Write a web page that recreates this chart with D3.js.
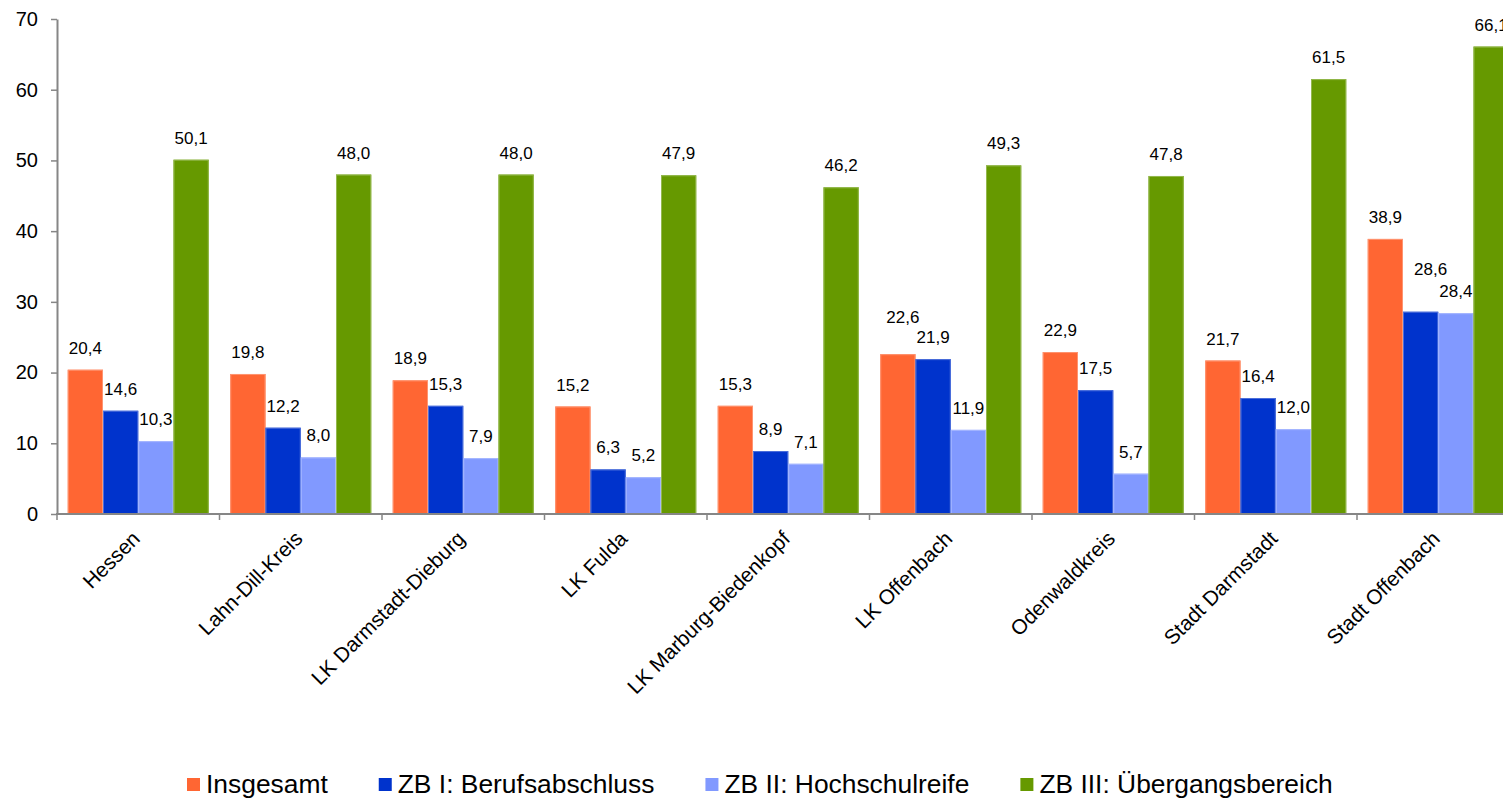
<!DOCTYPE html>
<html>
<head>
<meta charset="utf-8">
<script src="https://cdn.jsdelivr.net/npm/d3@7"></script>
<style>
  body { margin: 0; background: #fff; overflow: hidden; }
  svg { display: block; font-family: "Liberation Sans", Arial, sans-serif; }
</style>
</head>
<body>
<div id="chart"></div>
<script>
// regions (x axis)
var categories = ["Hessen", "Lahn-Dill-Kreis", "LK Darmstadt-Dieburg", "LK Fulda",
  "LK Marburg-Biedenkopf", "LK Offenbach", "Odenwaldkreis", "Stadt Darmstadt", "Stadt Offenbach"];

// series names (legend)
var seriesNames = ["Insgesamt", "ZB I: Berufsabschluss", "ZB II: Hochschulreife", "ZB III: Übergangsbereich"];

// values per series
var insgesamt = [20.4, 19.8, 18.9, 15.2, 15.3, 22.6, 22.9, 21.7, 38.9];
var zb1 = [14.6, 12.2, 15.3, 6.3, 8.9, 21.9, 17.5, 16.4, 28.6];
var zb2 = [10.3, 8.0, 7.9, 5.2, 7.1, 11.9, 5.7, 12.0, 28.4];
var zb3 = [50.1, 48.0, 48.0, 47.9, 46.2, 49.3, 47.8, 61.5, 66.1];

var yTicks = [0, 10, 20, 30, 40, 50, 60, 70];

var colors = ["#FF6633", "#0033CC", "#8199FF", "#669900"];

// a couple of labels were moved by hand in the original to avoid overlaps
var labelNudge = {
  "LK Offenbach|0": [5, -15],
  "Stadt Offenbach|1": [10, -21]
};

var width = 1503, height = 799;

var svg = d3.select("#chart").append("svg")
  .attr("width", width)
  .attr("height", height);

var x0 = d3.scaleBand()
  .domain(categories)
  .range([57, 1519.5])
  .paddingInner(0)
  .paddingOuter(0);

var x1 = d3.scaleBand()
  .domain(d3.range(seriesNames.length))
  .range([0, x0.bandwidth()])
  .paddingInner(0)
  .paddingOuter(0.305);

var y = d3.scaleLinear()
  .domain([0, 70])
  .range([514, 19]);

var allSeries = [insgesamt, zb1, zb2, zb3];

var fmt = function (v) { return d3.format(".1f")(v).replace(".", ","); };

// bars
var groups = svg.append("g").attr("class", "bars")
  .selectAll("g")
  .data(categories)
  .enter().append("g")
  .attr("transform", function (d) { return "translate(" + x0(d) + ",0)"; });

var cells = groups.selectAll("g")
  .data(function (cat, i) {
    return allSeries.map(function (s, k) { return { cat: cat, k: k, v: s[i] }; });
  })
  .enter().append("g");

cells.append("rect")
  .attr("x", function (d) { return x1(d.k); })
  .attr("y", function (d) { return y(d.v); })
  .attr("width", x1.bandwidth())
  .attr("height", function (d) { return y(0) - y(d.v); })
  .attr("fill", function (d) { return colors[d.k]; });

// thin light edge like the office chart
cells.append("rect")
  .attr("x", function (d) { return x1(d.k) + 0.5; })
  .attr("y", function (d) { return y(d.v) + 0.5; })
  .attr("width", x1.bandwidth() - 1)
  .attr("height", function (d) { return y(0) - y(d.v) - 1; })
  .attr("fill", "none")
  .attr("stroke", function (d) { return d3.interpolateRgb(colors[d.k], "#fff")(0.3); })
  .attr("stroke-width", 1);

// value labels
cells.append("text")
  .attr("x", function (d) {
    var n = labelNudge[d.cat + "|" + d.k];
    return x1(d.k) + x1.bandwidth() / 2 + (n ? n[0] : 0);
  })
  .attr("y", function (d) {
    var n = labelNudge[d.cat + "|" + d.k];
    return y(d.v) - 16 + (n ? n[1] : 0);
  })
  .attr("text-anchor", "middle")
  .attr("font-size", 17)
  .attr("fill", "#000")
  .text(function (d) { return fmt(d.v); });

// y axis
var yAxis = svg.append("g")
  .attr("transform", "translate(57,0)")
  .call(d3.axisLeft(y).tickValues(yTicks).tickSize(6).tickSizeOuter(0).tickPadding(13)
    .tickFormat(d3.format("d")));
yAxis.select(".domain").attr("stroke", "#868686").attr("stroke-width", 2);
yAxis.selectAll(".tick line").attr("stroke", "#868686").attr("stroke-width", 1.5);
yAxis.selectAll(".tick text")
  .attr("font-size", 20)
  .attr("font-family", "Liberation Sans, Arial, sans-serif")
  .attr("fill", "#000");

// x axis: base line and ticks between the groups
var xAxis = svg.append("g").attr("class", "x-axis");
xAxis.append("line")
  .attr("x1", x0.range()[0] - 1)
  .attr("x2", x0.range()[1])
  .attr("y1", y(0))
  .attr("y2", y(0))
  .attr("stroke", "#868686")
  .attr("stroke-width", 2);

var bounds = categories.map(function (c) { return x0(c); }).concat([x0.range()[1]]);
xAxis.selectAll("line.tick")
  .data(bounds)
  .enter().append("line")
  .attr("class", "tick")
  .attr("x1", function (d) { return d; })
  .attr("x2", function (d) { return d; })
  .attr("y1", y(0))
  .attr("y2", y(0) + 6)
  .attr("stroke", "#868686")
  .attr("stroke-width", 1.5);

xAxis.selectAll("text")
  .data(categories)
  .enter().append("text")
  .attr("transform", function (d) {
    return "translate(" + (x0(d) + x0.bandwidth() / 2 + 3) + "," + (y(0) + 26) + ") rotate(-45)";
  })
  .attr("text-anchor", "end")
  .attr("font-size", 20.8)
  .attr("fill", "#000")
  .text(function (d) { return d; });

// legend
var legend = svg.append("g").attr("class", "legend");
var lx = 187;
seriesNames.forEach(function (name, k) {
  var item = legend.append("g").attr("transform", "translate(" + lx + ",0)");
  item.append("rect")
    .attr("x", 0)
    .attr("y", 778)
    .attr("width", 13)
    .attr("height", 13)
    .attr("fill", colors[k]);
  var t = item.append("text")
    .attr("x", 19)
    .attr("y", 792.5)
    .attr("font-size", 26.4)
    .attr("fill", "#000")
    .text(name);
  lx += 19 + t.node().getComputedTextLength() + 51;
});
</script>
</body>
</html>
